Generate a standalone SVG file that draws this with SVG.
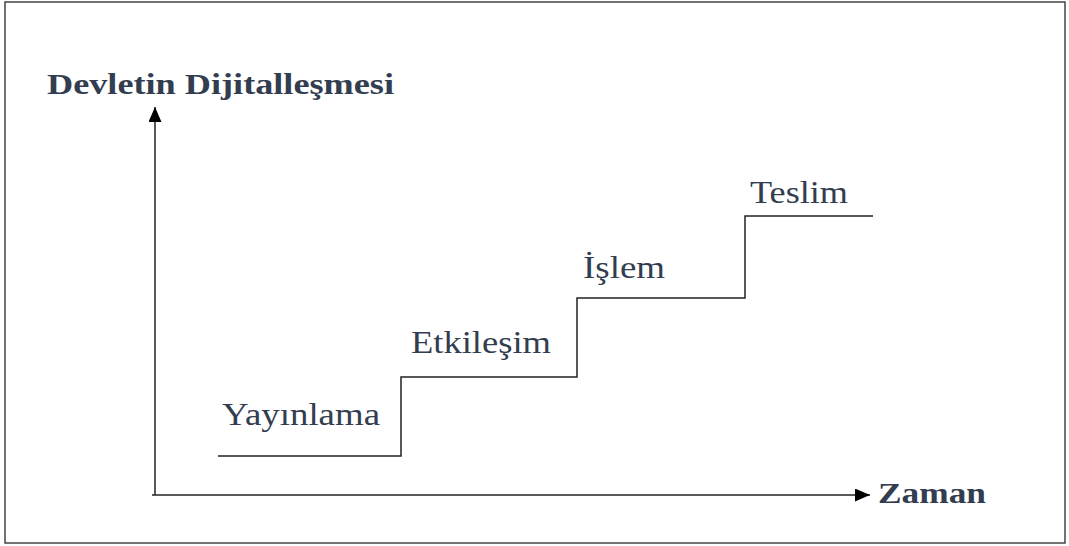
<svg xmlns="http://www.w3.org/2000/svg" width="1069" height="546" viewBox="0 0 1069 546">
<style>
.lbl{font-family:"Liberation Serif","Times New Roman",serif;font-size:32px;fill:#333d50}
.ax{font-family:"Liberation Serif","Times New Roman",serif;font-size:30px;font-weight:bold;fill:#333d50}
.ln{stroke:#222;stroke-width:1.5;fill:none}
</style>
<defs>
<marker id="ah2" viewBox="0 0 15 13" refX="15" refY="6.5" markerWidth="15" markerHeight="13" markerUnits="userSpaceOnUse" orient="auto">
<path d="M0,0 L15,6.5 L0,13 z" fill="#000"/>
</marker>
</defs>
<rect x="5" y="2" width="1060" height="541" fill="#fff" stroke="#444" stroke-width="1.5"/>
<g id="connectors">
<line class="ln" x1="155" y1="495" x2="155" y2="107" marker-end="url(#ah2)"/>
<line class="ln" x1="152" y1="495" x2="870" y2="495" marker-end="url(#ah2)"/>
<path class="ln" d="M218,456 H401 V377 H577 V298 H745 V216 H873"/>
</g>
<g id="title"><text class="ax" x="47" y="94" textLength="347" lengthAdjust="spacingAndGlyphs">Devletin Dijitalleşmesi</text></g>
<g id="zaman"><text class="ax" x="878" y="503" textLength="108" lengthAdjust="spacingAndGlyphs">Zaman</text></g>
<g id="yayinlama"><text class="lbl" x="222" y="425" textLength="158" lengthAdjust="spacingAndGlyphs">Yayınlama</text></g>
<g id="etkilesim"><text class="lbl" x="411" y="353" textLength="140" lengthAdjust="spacingAndGlyphs">Etkileşim</text></g>
<g id="islem"><text class="lbl" x="583" y="278" textLength="82" lengthAdjust="spacingAndGlyphs">İşlem</text></g>
<g id="teslim"><text class="lbl" x="750" y="203" textLength="98" lengthAdjust="spacingAndGlyphs">Teslim</text></g>
</svg>
